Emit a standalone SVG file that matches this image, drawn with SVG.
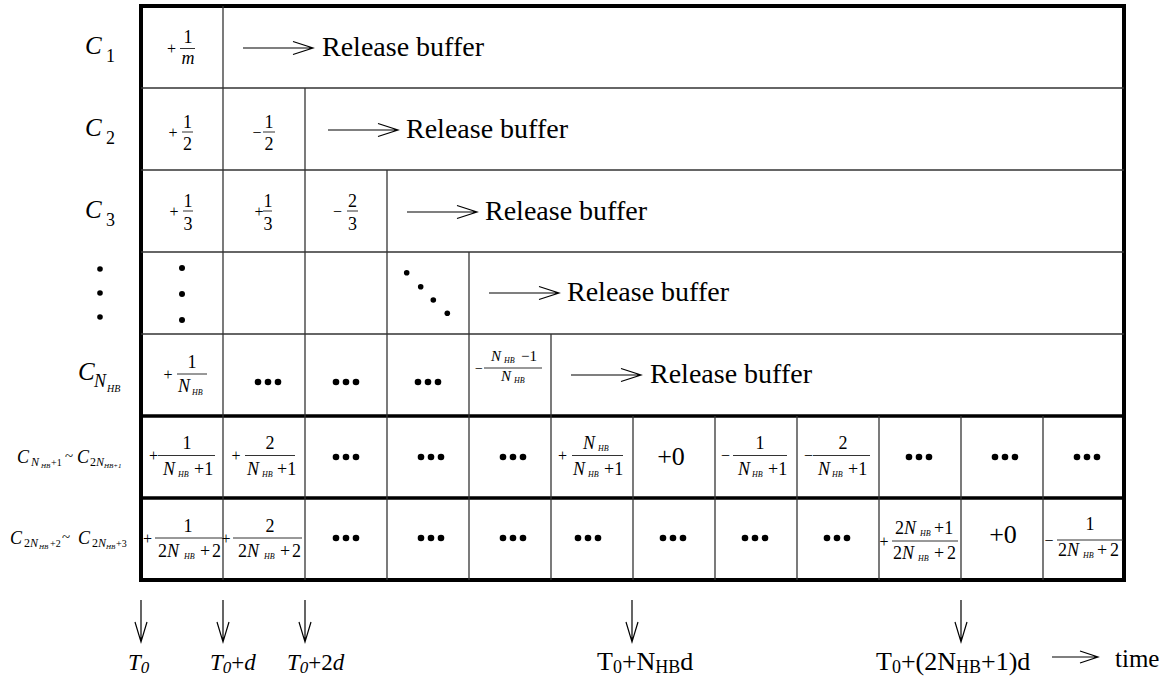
<svg xmlns="http://www.w3.org/2000/svg" width="1168" height="680" viewBox="0 0 1168 680" font-family="'Liberation Serif', 'DejaVu Serif', serif">
  <style>
    text { font-family: "Liberation Serif", "DejaVu Serif", serif; fill: #000; }
    .i { font-style: italic; }
    .thin { stroke: #333; stroke-width: 1.3; fill: none; }
    .thick { stroke: #000; stroke-width: 3.5; fill: none; }
    .frame { stroke: #000; stroke-width: 4; fill: none; }
    .bar { stroke: #333; stroke-width: 1; }
    .arr { stroke: #000; stroke-width: 1.2; fill: none; }
    .f18 { font-size: 18px; }
    .sg { font-size: 16px; }
    .rb { font-size: 28px; }
    .big { font-size: 26px; }
    .dot { fill: #000; }
  </style>
  <defs>
    <g id="dots3">
      <circle cx="-10" cy="0" r="3.3" class="dot"/>
      <circle cx="0" cy="0" r="3.3" class="dot"/>
      <circle cx="10" cy="0" r="3.3" class="dot"/>
    </g>
    <path id="relArrow" d="M0,0 H70 M50,-6.5 L70,0 L50,6.5" class="arr"/>
    <path id="downArrow" d="M0,0 V42 M-6,22 L0,42 L6,22" class="arr"/>
  </defs>

  <!-- grid -->
  <g id="grid">
    <rect x="141" y="6" width="983" height="574" class="frame"/>
    <!-- horizontal rules -->
    <line x1="141" y1="88" x2="1124" y2="88" class="thin"/>
    <line x1="141" y1="170" x2="1124" y2="170" class="thin"/>
    <line x1="141" y1="252" x2="1124" y2="252" class="thin"/>
    <line x1="141" y1="334" x2="1124" y2="334" class="thin"/>
    <line x1="141" y1="416" x2="1124" y2="416" class="thick"/>
    <line x1="141" y1="498" x2="1124" y2="498" class="thick"/>
    <!-- vertical rules, staircase part -->
    <line x1="223" y1="6" x2="223" y2="580" class="thin"/>
    <line x1="305" y1="88" x2="305" y2="580" class="thin"/>
    <line x1="387" y1="170" x2="387" y2="580" class="thin"/>
    <line x1="469" y1="252" x2="469" y2="580" class="thin"/>
    <line x1="551" y1="334" x2="551" y2="580" class="thin"/>
    <!-- vertical rules, lower block -->
    <line x1="633" y1="416" x2="633" y2="580" class="thin"/>
    <line x1="715" y1="416" x2="715" y2="580" class="thin"/>
    <line x1="797" y1="416" x2="797" y2="580" class="thin"/>
    <line x1="879" y1="416" x2="879" y2="580" class="thin"/>
    <line x1="961" y1="416" x2="961" y2="580" class="thin"/>
    <line x1="1043" y1="416" x2="1043" y2="580" class="thin"/>
  </g>

  <!-- row labels -->
  <g id="row-labels">
    <text x="85" y="54" class="i" font-size="25">C</text>
    <text x="106" y="62" font-size="18">1</text>
    <text x="85" y="136" class="i" font-size="25">C</text>
    <text x="106" y="144" font-size="18">2</text>
    <text x="85" y="218" class="i" font-size="25">C</text>
    <text x="106" y="226" font-size="18">3</text>
    <circle cx="100" cy="269" r="2.8" class="dot"/>
    <circle cx="100" cy="293" r="2.8" class="dot"/>
    <circle cx="100" cy="317" r="2.8" class="dot"/>
    <text x="78" y="380" class="i" font-size="25">C</text>
    <text x="94" y="387" class="i" font-size="18">N</text>
    <text x="107" y="392" class="i" font-size="10">HB</text>
    <!-- C_{N_HB+1} ~ C_{2N_HB+1} -->
    <text x="17" y="463" class="i" font-size="18">C</text>
    <text x="31" y="466" class="i" font-size="12">N</text>
    <text x="41" y="468" class="i" font-size="7">HB</text>
    <text x="51" y="466" font-size="10">+1</text>
    <text x="65" y="461" font-size="15">~</text>
    <text x="77" y="463" class="i" font-size="18">C</text>
    <text x="90" y="466" font-size="12">2<tspan class="i">N</tspan></text>
    <text x="104" y="468" class="i" font-size="7">HB+1</text>
    <!-- C_{2N_HB+2} ~ C_{2N_HB+3} -->
    <text x="10" y="544" class="i" font-size="18">C</text>
    <text x="24" y="547" font-size="12">2<tspan class="i">N</tspan></text>
    <text x="39" y="549" class="i" font-size="7">HB</text>
    <text x="50" y="547" font-size="10">+2</text>
    <text x="62" y="542" font-size="15">~</text>
    <text x="78" y="544" class="i" font-size="18">C</text>
    <text x="92" y="547" font-size="12">2<tspan class="i">N</tspan></text>
    <text x="106" y="549" class="i" font-size="7">HB</text>
    <text x="116" y="547" font-size="10">+3</text>
  </g>

  <!-- row C1 -->
  <g id="row-c1">
    <text x="171.5" y="54" text-anchor="middle" class="sg">+</text>
    <line x1="180" y1="48.5" x2="195" y2="48.5" class="bar"/>
    <text x="188" y="43" text-anchor="middle" class="f18">1</text>
    <text x="188" y="64" text-anchor="middle" class="f18 i">m</text>
    <use href="#relArrow" x="243" y="48"/>
    <text x="322" y="56" class="rb">Release buffer</text>
  </g>

  <!-- row C2 -->
  <g id="row-c2">
    <text x="173" y="138" text-anchor="middle" class="sg">+</text>
    <line x1="182" y1="132" x2="193" y2="132" class="bar"/>
    <text x="187.5" y="128" text-anchor="middle" class="f18">1</text>
    <text x="187.5" y="150" text-anchor="middle" class="f18">2</text>
    <text x="257" y="138" text-anchor="middle" class="sg">−</text>
    <line x1="263" y1="132" x2="275" y2="132" class="bar"/>
    <text x="269" y="128" text-anchor="middle" class="f18">1</text>
    <text x="269" y="150" text-anchor="middle" class="f18">2</text>
    <use href="#relArrow" x="328" y="130"/>
    <text x="406" y="138" class="rb">Release buffer</text>
  </g>

  <!-- row C3 -->
  <g id="row-c3">
    <text x="174" y="217" text-anchor="middle" class="sg">+</text>
    <line x1="183" y1="211" x2="193" y2="211" class="bar"/>
    <text x="188" y="207" text-anchor="middle" class="f18">1</text>
    <text x="188" y="230" text-anchor="middle" class="f18">3</text>
    <text x="259" y="217" text-anchor="middle" class="sg">+</text>
    <line x1="263" y1="211" x2="272" y2="211" class="bar"/>
    <text x="268" y="207" text-anchor="middle" class="f18">1</text>
    <text x="268" y="230" text-anchor="middle" class="f18">3</text>
    <text x="337.5" y="217" text-anchor="middle" class="sg">−</text>
    <line x1="347" y1="211" x2="358" y2="211" class="bar"/>
    <text x="352.5" y="207" text-anchor="middle" class="f18">2</text>
    <text x="352.5" y="230" text-anchor="middle" class="f18">3</text>
    <use href="#relArrow" x="407" y="212"/>
    <text x="485" y="220" class="rb">Release buffer</text>
  </g>

  <!-- ellipsis row -->
  <g id="row-ellipsis">
    <circle cx="182" cy="268" r="3" class="dot"/>
    <circle cx="182" cy="294" r="3" class="dot"/>
    <circle cx="182" cy="320" r="3" class="dot"/>
    <circle cx="406.7" cy="272.7" r="2.8" class="dot"/>
    <circle cx="420.7" cy="286.7" r="2.8" class="dot"/>
    <circle cx="433.3" cy="300" r="2.8" class="dot"/>
    <circle cx="447.3" cy="313.3" r="2.8" class="dot"/>
    <use href="#relArrow" x="489" y="293"/>
    <text x="567" y="301" class="rb">Release buffer</text>
  </g>

  <!-- row C_NHB -->
  <g id="row-cnhb">
    <text x="168" y="380" text-anchor="middle" class="sg">+</text>
    <line x1="177" y1="374" x2="207" y2="374" class="bar"/>
    <text x="192" y="368" text-anchor="middle" class="f18">1</text>
    <text x="178" y="392" class="f18 i">N</text>
    <text x="192" y="395" class="i" font-size="8">HB</text>
    <use href="#dots3" x="268" y="382"/>
    <use href="#dots3" x="346" y="382"/>
    <use href="#dots3" x="428" y="382"/>
    <text x="479" y="373" text-anchor="middle" font-size="14">−</text>
    <line x1="484" y1="368" x2="542" y2="368" class="bar"/>
    <text x="491" y="361" class="i" font-size="15">N</text>
    <text x="504" y="363" class="i" font-size="8">HB</text>
    <text x="521" y="361" font-size="15">−1</text>
    <text x="501" y="381" class="i" font-size="15">N</text>
    <text x="514" y="383" class="i" font-size="8">HB</text>
    <use href="#relArrow" x="571" y="375"/>
    <text x="650" y="383" class="rb">Release buffer</text>
  </g>

  <!-- row C_{NHB+1} ~ C_{2NHB+1} -->
  <g id="row-mid">
    <text x="153.5" y="461" text-anchor="middle" class="sg">+</text>
    <line x1="158" y1="455.5" x2="215" y2="455.5" class="bar"/>
    <text x="187" y="449" text-anchor="middle" class="f18">1</text>
    <text x="163" y="475" class="f18 i">N</text>
    <text x="178" y="477" class="i" font-size="8">HB</text>
    <text x="194" y="475" class="f18">+1</text>

    <text x="236" y="461" text-anchor="middle" class="sg">+</text>
    <line x1="245" y1="455.5" x2="295" y2="455.5" class="bar"/>
    <text x="270" y="449" text-anchor="middle" class="f18">2</text>
    <text x="247" y="475" class="f18 i">N</text>
    <text x="262" y="477" class="i" font-size="8">HB</text>
    <text x="277" y="475" class="f18">+1</text>

    <use href="#dots3" x="346" y="457"/>
    <use href="#dots3" x="431" y="457"/>
    <use href="#dots3" x="513" y="457"/>

    <text x="562.5" y="461" text-anchor="middle" class="sg">+</text>
    <line x1="572" y1="455.5" x2="623" y2="455.5" class="bar"/>
    <text x="583" y="449" class="f18 i">N</text>
    <text x="598" y="451" class="i" font-size="8">HB</text>
    <text x="573" y="475" class="f18 i">N</text>
    <text x="588" y="477" class="i" font-size="8">HB</text>
    <text x="604" y="475" class="f18">+1</text>

    <text x="671" y="465" text-anchor="middle" class="big">+0</text>

    <text x="725.5" y="461" text-anchor="middle" class="sg">−</text>
    <line x1="733" y1="455.5" x2="787" y2="455.5" class="bar"/>
    <text x="760" y="449" text-anchor="middle" class="f18">1</text>
    <text x="738" y="475" class="f18 i">N</text>
    <text x="752" y="477" class="i" font-size="8">HB</text>
    <text x="768" y="475" class="f18">+1</text>

    <text x="808.5" y="461" text-anchor="middle" class="sg">−</text>
    <line x1="813" y1="455.5" x2="870" y2="455.5" class="bar"/>
    <text x="843" y="449" text-anchor="middle" class="f18">2</text>
    <text x="818" y="475" class="f18 i">N</text>
    <text x="832" y="477" class="i" font-size="8">HB</text>
    <text x="848" y="475" class="f18">+1</text>

    <use href="#dots3" x="919" y="457"/>
    <use href="#dots3" x="1005" y="457"/>
    <use href="#dots3" x="1087" y="457"/>
  </g>

  <!-- row C_{2NHB+2} ~ C_{2NHB+3} -->
  <g id="row-low">
    <text x="147.5" y="544" text-anchor="middle" class="sg">+</text>
    <line x1="155" y1="538" x2="222" y2="538" class="bar"/>
    <text x="188" y="532" text-anchor="middle" class="f18">1</text>
    <text x="158" y="557" class="f18">2<tspan class="i">N</tspan></text>
    <text x="184" y="559" class="i" font-size="8">HB</text>
    <text x="200" y="557" class="f18">+</text>
    <text x="212" y="557" class="f18">2</text>

    <text x="226" y="544" text-anchor="middle" class="sg">+</text>
    <line x1="233" y1="538" x2="302" y2="538" class="bar"/>
    <text x="270" y="532" text-anchor="middle" class="f18">2</text>
    <text x="238" y="557" class="f18">2<tspan class="i">N</tspan></text>
    <text x="264" y="559" class="i" font-size="8">HB</text>
    <text x="280" y="557" class="f18">+</text>
    <text x="292" y="557" class="f18">2</text>

    <use href="#dots3" x="346" y="538"/>
    <use href="#dots3" x="431" y="538"/>
    <use href="#dots3" x="513" y="538"/>
    <use href="#dots3" x="588" y="538"/>
    <use href="#dots3" x="673" y="538"/>
    <use href="#dots3" x="755" y="538"/>
    <use href="#dots3" x="837" y="538"/>

    <text x="884" y="547" text-anchor="middle" class="sg">+</text>
    <line x1="892" y1="541" x2="958" y2="541" class="bar"/>
    <text x="895" y="534" class="f18">2<tspan class="i">N</tspan></text>
    <text x="920" y="536" class="i" font-size="8">HB</text>
    <text x="934" y="534" class="f18">+1</text>
    <text x="893" y="559" class="f18">2<tspan class="i">N</tspan></text>
    <text x="918" y="561" class="i" font-size="8">HB</text>
    <text x="934" y="559" class="f18">+</text>
    <text x="947" y="559" class="f18">2</text>

    <text x="1003" y="543" text-anchor="middle" class="big">+0</text>

    <text x="1049" y="546" text-anchor="middle" class="sg">−</text>
    <line x1="1057" y1="540" x2="1123" y2="540" class="bar"/>
    <text x="1090" y="530" text-anchor="middle" class="f18">1</text>
    <text x="1058" y="556" class="f18">2<tspan class="i">N</tspan></text>
    <text x="1083" y="558" class="i" font-size="8">HB</text>
    <text x="1097" y="556" class="f18">+</text>
    <text x="1110" y="556" class="f18">2</text>
  </g>

  <!-- time axis markers -->
  <g id="connectors">
    <use href="#downArrow" x="141" y="600"/>
    <use href="#downArrow" x="223" y="600"/>
    <use href="#downArrow" x="305" y="600"/>
    <use href="#downArrow" x="632" y="600"/>
    <use href="#downArrow" x="961" y="600"/>
    <path d="M1052,657 H1098 M1080,651 L1098,657 L1080,663" class="arr"/>
  </g>

  <g id="time-labels">
    <text x="128" y="670" class="i" font-size="23">T<tspan font-size="17" dy="3">0</tspan></text>
    <text x="210" y="670" font-size="23"><tspan class="i">T</tspan><tspan class="i" font-size="17" dy="3">0</tspan><tspan dy="-3">+</tspan><tspan class="i">d</tspan></text>
    <text x="287" y="670" font-size="23"><tspan class="i">T</tspan><tspan class="i" font-size="17" dy="3">0</tspan><tspan dy="-3">+2</tspan><tspan class="i">d</tspan></text>
    <text x="597" y="670" font-size="26">T<tspan font-size="18" dy="3">0</tspan><tspan dy="-3">+N</tspan><tspan font-size="18" dy="3">HB</tspan><tspan dy="-3">d</tspan></text>
    <text x="876" y="670" font-size="26">T<tspan font-size="18" dy="3">0</tspan><tspan dy="-3">+(2N</tspan><tspan font-size="18" dy="3">HB</tspan><tspan dy="-3">+1)d</tspan></text>
    <text x="1115" y="667" font-size="25">time</text>
  </g>
</svg>
